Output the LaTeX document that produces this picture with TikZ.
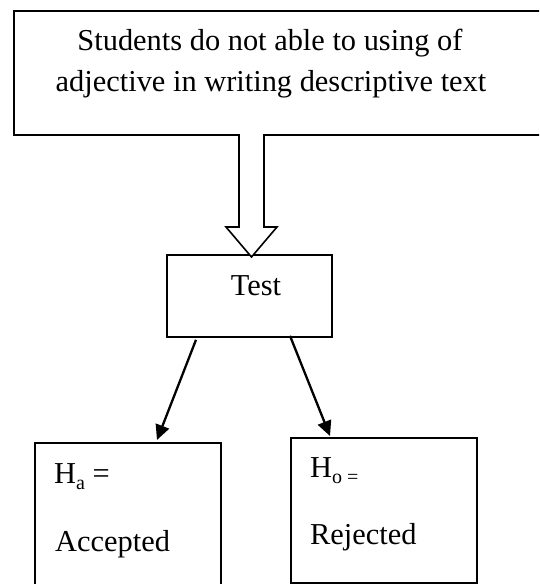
\documentclass[tikz,border=0pt]{standalone}
\usepackage{fontspec}
\setmainfont{Liberation Serif}
\usetikzlibrary{arrows.meta,calc}
\newcommand\mysub[1]{\raisebox{-0.22em}{\fontsize{20}{20}\selectfont #1}}
\begin{document}
\begin{tikzpicture}[x=1pt,y=-1pt,
  box/.style={draw,line width=1.8pt,rectangle},
  txt/.style={anchor=base,inner sep=0pt,font=\fontsize{30.4}{42}\selectfont},
  ltxt/.style={anchor=base west,inner sep=0pt,font=\fontsize{30.4}{42}\selectfont},
  conn/.style={line width=2.3pt,-{Triangle[length=15pt,width=14pt]}},
  hollow/.style={draw,line width=1.6pt,fill=white,line join=miter}]
\useasboundingbox (0,0) rectangle (539,584);
\clip (0,0) rectangle (539,584);
\fill[white] (0,0) rectangle (539,584);
% top box
\node[box,anchor=north west,minimum width=560pt,minimum height=124pt,inner sep=0pt] (top) at (13,10) {};
\node[txt] (t1) at (270,50) {Students do not able to using of};
\node[txt] (t2) at (271,91) {adjective in writing descriptive text};
% test box
\node[box,anchor=north west,minimum width=165pt,minimum height=82pt,inner sep=0pt] (test) at (166,254) {};
\node[txt] (testtxt) at (256,295) {Test};
% hollow block arrow
\coordinate (ab) at (251.5,134);
\coordinate (at) at (251.5,257);
\draw[hollow] ($(ab)+(-12.5,0)$) -- ($(ab)+(-12.5,93)$) -- ($(ab)+(-25.5,93)$) -- (at) -- ($(ab)+(25.5,93)$) -- ($(ab)+(12.5,93)$) -- ($(ab)+(12.5,0)$);
% bottom boxes
\node[box,anchor=north west,minimum width=186pt,minimum height=170pt,inner sep=0pt] (acc) at (34,442) {};
\node[box,anchor=north west,minimum width=186pt,minimum height=145pt,inner sep=0pt] (rej) at (290,437) {};
\node[ltxt] (ha) at (54,483) {H\mysub{a} =};
\node[ltxt] (acct) at (55,551) {Accepted};
\node[ltxt] (ho) at (310,477) {H\mysub{o =}};
\node[ltxt] (rejt) at (310,544) {Rejected};
% connectors
\coordinate (s1) at ($(test.south west)+(30,2)$);
\coordinate (e1) at ($(acc.north west)+(123,-2)$);
\coordinate (s2) at ($(test.south west)+(124,-2)$);
\coordinate (e2) at ($(rej.north west)+(40,-1)$);
\draw[conn] (s1) -- (e1);
\draw[conn] (s2) -- (e2);
\end{tikzpicture}
\end{document}
